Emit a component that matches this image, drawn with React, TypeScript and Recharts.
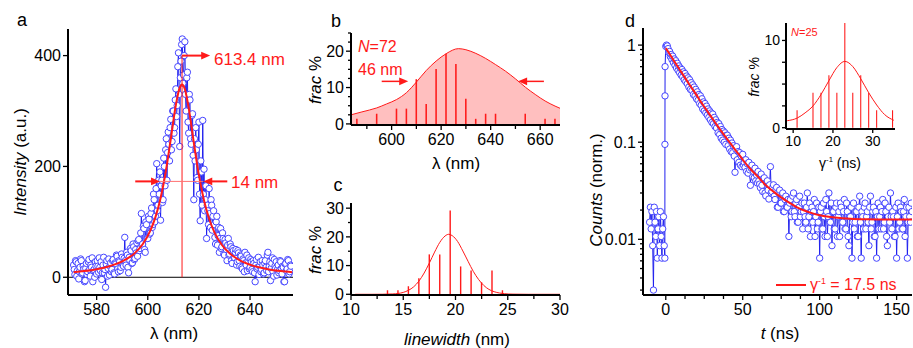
import React from 'react';
import { ComposedChart, Line, Area, Bar, Scatter, XAxis, YAxis, ReferenceLine } from 'recharts';

const RED = '#ff1a1a';
const BLUE = '#2020ee';
const BLUE_DOT = '#4646ff';
const FONT = '"Liberation Sans", Arial, Helvetica, sans-serif';

// ---- panel a: single particle spectrum (0.25 nm grid from 571 nm)
const SPEC_START = 571;
const SPEC_STEP = 0.25;
const SPEC_COUNTS = [
  22, 14, 5, 30, 28, 2, 12, 25, -3, 10, 18, 33, 30, 6, 8, 20, 15, -8, -6, 16,
  25, 5, 10, 28, 32, 14, 2, 22, 18, 35, -8, 12, 14, 0, 28, 20, 6, 30, 20, 9,
  35, 18, 12, 28, -4, 8, 22, 36, 8, 14, -18, 24, 30, 2, 16, 33, 4, 20, 26, 10,
  14, 30, 32, 8, 6, 26, 24, 40, 38, 15, 10, 30, 28, 12, 18, 42, 36, 22, 20, 34,
  72, 30, 22, 45, 40, 18, 8, 36, 30, 52, 48, 25, 26, 60, 55, 32, 34, 50, 44, 62,
  38, 66, 68, 48, 52, 80, 115, 58, 60, 92, 88, 50, 45, 100, 95, 70, 70, 110, 105, 78,
  80, 115, 125, 90, 95, 150, 140, 100, 110, 160, 205, 120, 130, 175, 150, 190, 103, 165, 175, 135,
  140, 215, 200, 165, 230, 250, 175, 225, 262, 240, 210, 270, 285, 230, 245, 300, 300, 260, 270, 320,
  340, 290, 310, 380, 405, 330, 236, 360, 390, 420, 430, 350, 365, 400, 425, 330, 300, 360, 370, 280,
  260, 330, 320, 250, 240, 292, 295, 220, 140, 250, 210, 270, 230, 180, 175, 240, 280, 150, 102, 210,
  190, 130, 283, 150, 195, 120, 140, 165, 70, 130, 120, 95, 160, 115, 90, 140, 130, 85, 110, 120,
  95, 72, 60, 100, 110, 58, 75, 90, 45, 70, 88, 52, 55, 80, 70, 42, 40, 68, 62, 50,
  30, 58, 70, 40, 42, 60, 55, 30, 25, 52, 48, 36, 35, 45, 50, 22, 28, 48, 44, 30,
  20, 40, 38, 18, 15, 33, 30, 10, 45, 26, 22, 40, 12, 30, 35, 15, 18, 32, 28, 14,
  10, 30, 25, 8, -8, 22, 32, 15, 18, 36, 5, 20, 28, 10, 14, 30, 22, 6, 8, 25,
  30, 18, 12, 40, 45, 10, 20, 28, -6, 16, 25, 35, 10, 2, 32, 20, 16, 28, 4, 14,
  22, 8, 12, 30, 28, 16, 6, 20, 18, -8, -8, 24, 25, 12, 15, 32, 30, 6, 10, 22,
  20,
];
const SPEC_FIT_X = [571, 575, 580, 585, 590, 595, 598, 601, 603, 605, 607, 609, 611, 612.5, 613.4, 614.5, 616, 618, 620, 622, 624, 626, 629, 632, 636, 641, 647, 652, 656.5];
const SPEC_FIT_Y = [9.2, 11.2, 14.6, 19.9, 28.6, 44, 59.6, 84, 108.5, 142.6, 189.5, 249.5, 311.4, 342.3, 348, 339.6, 305.8, 243, 184.2, 138.6, 105.7, 82, 58.3, 43.2, 30.5, 21, 14.5, 11.1, 8.9];

// ---- panel b: peak position histogram
const HIST_B_X = [586, 594, 602, 606, 610, 614, 618, 622, 626, 630, 634, 638, 642, 654, 662, 666];
const HIST_B_Y = [1.4, 2.8, 4.2, 4.2, 12.3, 5.5, 15.1, 19.3, 16.5, 6.9, 1.4, 2.8, 2.8, 2.8, 1.4, 1.4];
const FIT_B_X = [583.6, 588, 594, 598, 602, 606, 610, 614, 618, 622, 627, 630, 634, 638, 642, 646, 650, 654, 658, 662, 666, 668];
const FIT_B_Y = [2.5, 3.3, 4.4, 5.5, 6.7, 8.6, 11.5, 14.7, 17.3, 19.3, 20.7, 20.4, 19.4, 18.0, 16.3, 14.5, 12.4, 10.1, 8.1, 6.3, 4.9, 4.3];

// ---- panel c: linewidth histogram
const HIST_C_X = [13.5, 14.5, 15.5, 16.5, 17.5, 18.5, 19.5, 20.5, 21.5, 22.5, 23.5, 24.5];
const HIST_C_Y = [1.4, 1.4, 2.8, 5.6, 13.9, 13.9, 29.2, 9.7, 8.3, 4.2, 8.3, 1.4];
const FIT_C_X = [10.4, 12, 13, 14, 15, 15.5, 16, 16.5, 17, 17.5, 18, 18.5, 19, 19.35, 19.7, 20.2, 20.7, 21.2, 21.7, 22.2, 22.7, 23.2, 23.7, 24.2, 24.7, 25.5, 27, 30];
const FIT_C_Y = [0, 0, 0.02, 0.12, 0.65, 1.4, 2.6, 4.6, 7.4, 10.9, 14.7, 18.1, 20.3, 20.9, 20.4, 18.4, 15.1, 11.5, 8.0, 5.2, 3.1, 1.7, 0.9, 0.45, 0.2, 0.05, 0, 0];

// ---- panel d: decay trace
const PRE_START = -10.5;
const PRE_STEP = 0.5;
const DECAY_PRE = [0.015, 0.0214, 0.0128, 0.0193, 0.0086, 0.003, 0.0214, 0.015, 0.0107, 0.0193, 0.0064, 0.0128, 0.0171, 0.0086, 0.0193, 0.0107, 0.0064, 0.0128, 0.0171, 0.0086];
const RISE_T = [-0.6, -0.55, -0.5, -0.45];
const RISE_V = [0.0064, 0.095, 0.3, 0.6];
const DECAY_STEP = 0.5;
const DECAY = [
  0.97, 1.0, 0.98, 0.92, 0.84, 0.86, 0.76, 0.80, 0.71, 0.77, 0.66, 0.72, 0.62, 0.69, 0.58, 0.65, 0.55, 0.61, 0.52, 0.58,
  0.49, 0.56, 0.47, 0.53, 0.44, 0.51, 0.42, 0.48, 0.40, 0.46, 0.37, 0.44, 0.35, 0.41, 0.34, 0.39, 0.31, 0.37, 0.30, 0.35,
  0.28, 0.33, 0.27, 0.31, 0.25, 0.30, 0.24, 0.28, 0.22, 0.26, 0.21, 0.25, 0.20, 0.235, 0.19, 0.22, 0.18, 0.21, 0.17, 0.20,
  0.16, 0.195, 0.155, 0.18, 0.145, 0.17, 0.14, 0.16, 0.125, 0.155, 0.12, 0.145, 0.11, 0.135, 0.105, 0.13, 0.10, 0.125, 0.095, 0.118,
  0.118, 0.092, 0.11, 0.085, 0.105, 0.08, 0.098, 0.078, 0.092, 0.072, 0.049, 0.085, 0.09, 0.066, 0.08, 0.062, 0.078, 0.058, 0.072, 0.056,
  0.075, 0.058, 0.062, 0.055, 0.066, 0.05, 0.06, 0.048, 0.062, 0.052, 0.036, 0.054, 0.058, 0.044, 0.05, 0.043, 0.054, 0.04, 0.046, 0.038,
  0.05, 0.04, 0.037, 0.034, 0.047, 0.036, 0.031, 0.042, 0.043, 0.03, 0.028, 0.038, 0.04, 0.0321, 0.026, 0.0364, 0.056, 0.03, 0.031, 0.0342,
  0.0364, 0.0278, 0.0257, 0.0321, 0.0342, 0.0214, 0.0214, 0.03, 0.0321, 0.0236, 0.0236, 0.0278, 0.03, 0.0193, 0.0193, 0.0257, 0.0278, 0.0214, 0.0214, 0.0257,
  0.0107, 0.0236, 0.0257, 0.0171, 0.0193, 0.0278, 0.03, 0.0193, 0.0171, 0.0236, 0.0257, 0.015, 0.015, 0.0214, 0.0278, 0.0171, 0.0193, 0.0236, 0.0128, 0.0193,
  0.0236, 0.0171, 0.015, 0.0214, 0.03, 0.0128, 0.0171, 0.0236, 0.0107, 0.0193, 0.0214, 0.015, 0.0193, 0.0257, 0.0107, 0.0171, 0.0236, 0.0128, 0.015, 0.0214,
  0.0064, 0.0193, 0.0214, 0.0128, 0.0128, 0.0236, 0.0171, 0.0107, 0.0257, 0.0193, 0.0107, 0.0171, 0.03, 0.015, 0.015, 0.0236, 0.0086, 0.0193, 0.0193, 0.0128,
  0.0128, 0.0214, 0.0236, 0.0107, 0.0171, 0.0193, 0.0107, 0.0236, 0.0214, 0.015, 0.015, 0.0193, 0.0257, 0.0128, 0.0128, 0.0236, 0.0193, 0.0107, 0.0086, 0.0171,
  0.0171, 0.0214, 0.0064, 0.015, 0.0236, 0.0128, 0.015, 0.0193, 0.0193, 0.0107, 0.0107, 0.0214, 0.0278, 0.015, 0.0064, 0.0193, 0.0171, 0.0128, 0.0214, 0.0236,
  0.0128, 0.0171, 0.0193, 0.015, 0.0086, 0.0214, 0.0278, 0.0128, 0.015, 0.0193, 0.0214, 0.0107, 0.0107, 0.0193, 0.0064, 0.0171, 0.0236, 0.0128, 0.0171, 0.0214,
  0.0128, 0.0193, 0.0257, 0.0128, 0.015, 0.0236, 0.0193, 0.0107, 0.0086, 0.0171, 0.0214, 0.015, 0.03, 0.0171, 0.0128, 0.0193, 0.0171, 0.0107, 0.0107, 0.0214,
  0.0064, 0.0171, 0.0236, 0.0128, 0.015, 0.0214, 0.0193, 0.0128, 0.0128, 0.0193, 0.0257, 0.0107, 0.0171, 0.0214, 0.0064, 0.015, 0.0214, 0.0171, 0.015, 0.0236,
  0.0193,
];
const FIT_D_T = [0, 2.5, 5, 7.5, 10, 12.5, 15, 17.5, 20, 22.5, 25, 27.5, 30, 32.5, 35, 37.5, 40, 42.5, 45, 47.5, 50, 55, 60, 65, 70, 75, 80, 85, 90, 95, 100, 110, 120, 130, 145, 160];
const FIT_D_V = [0.93, 0.81, 0.70, 0.61, 0.53, 0.46, 0.40, 0.35, 0.305, 0.265, 0.232, 0.203, 0.178, 0.156, 0.137, 0.121, 0.107, 0.095, 0.084, 0.075, 0.066, 0.053, 0.044, 0.036, 0.031, 0.027, 0.024, 0.0215, 0.0198, 0.0186, 0.0177, 0.0168, 0.0163, 0.0161, 0.016, 0.016];

// ---- inset: lifetime histogram
const LIFE_X = [11, 15, 17, 19, 21, 23, 25, 27, 29, 31, 35];
const LIFE_Y = [2, 4, 4, 6, 4, 12, 4, 6, 4, 2, 2];
const LIFE_FIT_X = [8.5, 11, 13, 15, 17, 19, 21, 23, 25, 27, 29, 31, 33, 35.3];
const LIFE_FIT_Y = [0.8, 1.1, 1.7, 2.5, 3.8, 5.4, 6.9, 7.6, 7.0, 5.6, 4.0, 2.6, 1.5, 0.85];

const zip = (xs: number[], ys: number[]) => xs.map((x, i) => ({ x, y: ys[i] }));

const specData = SPEC_COUNTS.map((y, i) => ({ x: SPEC_START + i * SPEC_STEP, y }));
const specFit = zip(SPEC_FIT_X, SPEC_FIT_Y);
const histB = zip(HIST_B_X, HIST_B_Y);
const fitB = zip(FIT_B_X, FIT_B_Y);
const histC = zip(HIST_C_X, HIST_C_Y);
const fitC = zip(FIT_C_X, FIT_C_Y);
const decayData = [
  ...DECAY_PRE.map((y, i) => ({ x: PRE_START + i * PRE_STEP, y })),
  ...zip(RISE_T, RISE_V),
  ...DECAY.map((y, i) => ({ x: i * DECAY_STEP, y })),
];
const fitD = zip(FIT_D_T, FIT_D_V);
const lifeHist = zip(LIFE_X, LIFE_Y);
const lifeFit = zip(LIFE_FIT_X, LIFE_FIT_Y);

const arrowsA = [
  { x: 624.4, y: 400, dir: 1 },
  { x: 604.8, y: 173, dir: 1 },
  { x: 621.7, y: 173, dir: -1 },
];
const arrowsB = [
  { x: 606.7, y: 11.7, dir: 1 },
  { x: 651.1, y: 11.7, dir: -1 },
];

type TickSpec = { side: 'left' | 'bottom'; majors: number[]; big: number; small: number; fs: number };

function axisTick(spec: TickSpec) {
  return function AxisTick(p: any) {
    const v = p.payload.value as number;
    const major = spec.majors.some(m => Math.abs(m - v) < 1e-9);
    const len = major ? spec.big : spec.small;
    const txt = major ? String(v) : '';
    if (spec.side === 'left') {
      return (
        <g>
          <line x1={p.x} y1={p.y} x2={p.x - len} y2={p.y} stroke="#000" strokeWidth={1.3} />
          {txt && (
            <text x={p.x - len - 2} y={p.y} dy="0.36em" textAnchor="end" fontSize={spec.fs} fontFamily={FONT} fill="#000">
              {txt}
            </text>
          )}
        </g>
      );
    }
    return (
      <g>
        <line x1={p.x} y1={p.y} x2={p.x} y2={p.y + len} stroke="#000" strokeWidth={1.3} />
        {txt && (
          <text x={p.x} y={p.y + len + 2} dy="0.8em" textAnchor="middle" fontSize={spec.fs} fontFamily={FONT} fill="#000">
            {txt}
          </text>
        )}
      </g>
    );
  };
}

function ArrowHead(p: any) {
  const { cx, cy, payload } = p;
  const d = payload.dir;
  return <path d={`M${cx},${cy} L${cx - d * 9},${cy - 3.8} L${cx - d * 9},${cy + 3.8} Z`} fill={RED} />;
}

const axisLine = { stroke: '#000', strokeWidth: 2 };

function Txt({ x, y, children, size = 17, color = '#000', rotate = false, left = false }: any) {
  const tf = left ? 'translate(0,-50%)' : 'translate(-50%,-50%)';
  return (
    <div
      style={{
        position: 'absolute',
        left: x,
        top: y,
        transform: rotate ? `${tf} rotate(-90deg)` : tf,
        fontSize: size,
        color,
        whiteSpace: 'nowrap',
        lineHeight: 1,
      }}
    >
      {children}
    </div>
  );
}

const sup = { fontSize: '0.55em', verticalAlign: 'super', lineHeight: 0 } as React.CSSProperties;

// invisible axes so an overlay chart shares the plot box of the chart below it
function ghostAxes(xDomain: number[], yDomain: number[], w: number, h: number, log = false) {
  return [
    <XAxis key="x" type="number" dataKey="x" domain={xDomain} allowDataOverflow axisLine={false} tickLine={false} tick={false} height={h} />,
    <YAxis key="y" type="number" dataKey="y" domain={yDomain} allowDataOverflow axisLine={false} tickLine={false} tick={false} width={w}
      scale={log ? 'log' : 'auto'} />,
  ];
}

export default function App() {
  return (
    <div style={{ position: 'absolute', left: 0, top: 0, width: 913, height: 348, background: '#fff', fontFamily: FONT, overflow: 'hidden' }}>
      {/* a */}
      <div style={{ position: 'absolute', left: 0, top: 0 }}>
        <ComposedChart width={300} height={348} margin={{ top: 29, right: 7, bottom: 0, left: 0 }}>
          <XAxis type="number" dataKey="x" domain={[568.8, 656.8]} allowDataOverflow ticks={[580, 600, 620, 640]} interval={0}
            tickSize={0} tickMargin={0} tickLine={false} axisLine={axisLine} height={53}
            tick={axisTick({ side: 'bottom', majors: [580, 600, 620, 640], big: 5, small: 3, fs: 16 })} />
          <YAxis type="number" dataKey="y" domain={[-32, 448]} allowDataOverflow ticks={[0, 200, 400]} interval={0}
            tickSize={0} tickMargin={0} tickLine={false} axisLine={axisLine} width={68}
            tick={axisTick({ side: 'left', majors: [0, 200, 400], big: 5, small: 3, fs: 16 })} />
          <ReferenceLine y={0} stroke="#000" strokeWidth={1} />
          <Line data={specData} dataKey="y" stroke={BLUE} strokeWidth={1}
            dot={{ r: 3.2, fill: '#fff', stroke: BLUE_DOT, strokeWidth: 1 }} isAnimationActive={false} />
        </ComposedChart>
      </div>
      <div style={{ position: 'absolute', left: 0, top: 0 }}>
        <ComposedChart width={300} height={348} margin={{ top: 29, right: 7, bottom: 0, left: 0 }}>
          {ghostAxes([568.8, 656.8], [-32, 448], 68, 53)}
          <Line data={specFit} dataKey="y" type="monotone" stroke={RED} strokeWidth={2} dot={false} isAnimationActive={false} />
          <ReferenceLine segment={[{ x: 613.4, y: 0 }, { x: 613.4, y: 400 }]} stroke={RED} strokeWidth={1} />
          <ReferenceLine segment={[{ x: 613.4, y: 400 }, { x: 622, y: 400 }]} stroke={RED} strokeWidth={2} />
          <ReferenceLine segment={[{ x: 595.1, y: 173 }, { x: 602, y: 173 }]} stroke={RED} strokeWidth={2} />
          <ReferenceLine segment={[{ x: 631.1, y: 173 }, { x: 624, y: 173 }]} stroke={RED} strokeWidth={2} />
          <ReferenceLine segment={[{ x: 604.8, y: 173 }, { x: 621.7, y: 173 }]} stroke="#ff7070" strokeWidth={1} />
          <Scatter data={arrowsA} dataKey="y" shape={ArrowHead} isAnimationActive={false} />
        </ComposedChart>
      </div>

      {/* b */}
      <div style={{ position: 'absolute', left: 290, top: 0 }}>
        <ComposedChart width={280} height={175} data={histB} margin={{ top: 33, right: 10, bottom: 0, left: 0 }}>
          <XAxis type="number" dataKey="x" domain={[583.6, 668]} allowDataOverflow ticks={[590, 600, 610, 620, 630, 640, 650, 660]} interval={0}
            tickSize={0} tickMargin={0} tickLine={false} axisLine={axisLine} height={50}
            tick={axisTick({ side: 'bottom', majors: [600, 620, 640, 660], big: 5, small: 4, fs: 16 })} />
          <YAxis type="number" dataKey="y" domain={[-0.3, 25]} allowDataOverflow ticks={[0, 2.5, 5, 7.5, 10, 12.5, 15, 17.5, 20, 22.5, 25]} interval={0}
            tickSize={0} tickMargin={0} tickLine={false} axisLine={axisLine} width={61}
            tick={axisTick({ side: 'left', majors: [0, 10, 20], big: 5, small: 3, fs: 16 })} />
          <Area data={fitB} dataKey="y" type="monotone" fill="#ffbfbf" fillOpacity={1} stroke={RED} strokeWidth={1} isAnimationActive={false} />
          <Bar dataKey="y" fill={RED} barSize={2} isAnimationActive={false} />
          <ReferenceLine segment={[{ x: 596, y: 11.7 }, { x: 604, y: 11.7 }]} stroke={RED} strokeWidth={1.5} />
          <ReferenceLine segment={[{ x: 661.5, y: 11.7 }, { x: 653.8, y: 11.7 }]} stroke={RED} strokeWidth={1.5} />
          <Scatter data={arrowsB} dataKey="y" shape={ArrowHead} isAnimationActive={false} />
        </ComposedChart>
      </div>

      {/* c */}
      <div style={{ position: 'absolute', left: 290, top: 175 }}>
        <ComposedChart width={280} height={173} data={histC} margin={{ top: 28, right: 10, bottom: 0, left: 0 }}>
          <XAxis type="number" dataKey="x" domain={[10, 30]} allowDataOverflow ticks={[10, 12.5, 15, 17.5, 20, 22.5, 25, 27.5, 30]} interval={0}
            tickSize={0} tickMargin={0} tickLine={false} axisLine={axisLine} height={53}
            tick={axisTick({ side: 'bottom', majors: [10, 15, 20, 25, 30], big: 5, small: 4, fs: 16 })} />
          <YAxis type="number" dataKey="y" domain={[-0.25, 31.8]} allowDataOverflow ticks={[0, 5, 10, 15, 20, 25, 30]} interval={0}
            tickSize={0} tickMargin={0} tickLine={false} axisLine={axisLine} width={61}
            tick={axisTick({ side: 'left', majors: [0, 10, 20, 30], big: 5, small: 3, fs: 16 })} />
          <Bar dataKey="y" fill={RED} barSize={2} isAnimationActive={false} />
          <Line data={fitC} dataKey="y" type="monotone" stroke={RED} strokeWidth={1} dot={false} isAnimationActive={false} />
        </ComposedChart>
      </div>

      {/* d */}
      <div style={{ position: 'absolute', left: 580, top: 0 }}>
        <ComposedChart width={333} height={348} margin={{ top: 28, right: 1, bottom: 0, left: 0 }}>
          <XAxis type="number" dataKey="x" domain={[-14.8, 160]} allowDataOverflow
            ticks={[0, 12.5, 25, 37.5, 50, 62.5, 75, 87.5, 100, 112.5, 125, 137.5, 150]} interval={0}
            tickSize={0} tickMargin={0} tickLine={false} axisLine={axisLine} height={53}
            tick={axisTick({ side: 'bottom', majors: [0, 50, 100, 150], big: 5, small: 4, fs: 16 })} />
          <YAxis type="number" dataKey="y" scale="log" domain={[0.00267, 1.5]} allowDataOverflow
            ticks={[0.003, 0.004, 0.005, 0.006, 0.007, 0.008, 0.009, 0.01, 0.02, 0.03, 0.04, 0.05, 0.06, 0.07, 0.08, 0.09, 0.1, 0.2, 0.3, 0.4, 0.5, 0.6, 0.7, 0.8, 0.9, 1]}
            interval={0} tickSize={0} tickMargin={0} tickLine={false} axisLine={axisLine} width={63}
            tick={axisTick({ side: 'left', majors: [0.01, 0.1, 1], big: 5, small: 3, fs: 16 })} />
          <Line data={decayData} dataKey="y" stroke={BLUE} strokeWidth={1}
            dot={{ r: 3.2, fill: '#fff', stroke: BLUE_DOT, strokeWidth: 1 }} isAnimationActive={false} />
        </ComposedChart>
      </div>
      <div style={{ position: 'absolute', left: 580, top: 0 }}>
        <ComposedChart width={333} height={348} margin={{ top: 28, right: 1, bottom: 0, left: 0 }}>
          {ghostAxes([-14.8, 160], [0.00267, 1.5], 63, 53, true)}
          <Line data={fitD} dataKey="y" type="monotone" stroke={RED} strokeWidth={2} dot={false} isAnimationActive={false} />
        </ComposedChart>
      </div>

      {/* d inset */}
      <div style={{ position: 'absolute', left: 745, top: 0 }}>
        <ComposedChart width={160} height={150} data={lifeHist} margin={{ top: 23, right: 10, bottom: 0, left: 0 }}>
          <XAxis type="number" dataKey="x" domain={[8.2, 35.6]} allowDataOverflow ticks={[10, 20, 30]} interval={0}
            tickSize={0} tickMargin={0} tickLine={false} axisLine={axisLine} height={21}
            tick={axisTick({ side: 'bottom', majors: [10, 20, 30], big: 4, small: 3, fs: 14 })} />
          <YAxis type="number" dataKey="y" domain={[-0.15, 12]} allowDataOverflow ticks={[0, 2.5, 5, 7.5, 10]} interval={0}
            tickSize={0} tickMargin={0} tickLine={false} axisLine={axisLine} width={41}
            tick={axisTick({ side: 'left', majors: [0, 10], big: 4, small: 4, fs: 14 })} />
          <Bar dataKey="y" fill={RED} barSize={3} isAnimationActive={false} />
          <Line data={lifeFit} dataKey="y" type="monotone" stroke={RED} strokeWidth={1} dot={false} isAnimationActive={false} />
        </ComposedChart>
      </div>

      {/* letters and titles */}
      <Txt x={22} y={20} size={18}>a</Txt>
      <Txt x={336} y={21} size={18}>b</Txt>
      <Txt x={338} y={185} size={18}>c</Txt>
      <Txt x={630} y={21} size={18}>d</Txt>

      <Txt x={20} y={162} rotate><i>Intensity</i> (a.u.)</Txt>
      <Txt x={174} y={333}>λ (nm)</Txt>
      <Txt x={214} y={59} size={17} color={RED} left>613.4 nm</Txt>
      <Txt x={231} y={182} size={17} color={RED} left>14 nm</Txt>

      <Txt x={315} y={80} rotate><i>frac</i> %</Txt>
      <Txt x={456} y={163}>λ (nm)</Txt>
      <Txt x={358} y={47} size={16} color={RED} left><i>N</i>=72</Txt>
      <Txt x={358} y={70} size={16} color={RED} left>46 nm</Txt>

      <Txt x={315} y={250} rotate><i>frac</i> %</Txt>
      <Txt x={457} y={339}><i>linewidth</i> (nm)</Txt>

      <Txt x={596} y={190} rotate><i>Counts</i> (norm.)</Txt>
      <Txt x={780} y={333}><i>t</i> (ns)</Txt>
      <Txt x={754} y={77} size={14} rotate><i>frac</i> %</Txt>
      <Txt x={840} y={163} size={14}>γ<span style={sup}>-1</span> (ns)</Txt>
      <Txt x={791} y={32} size={11} color={RED} left><i>N</i>=25</Txt>

      <div style={{ position: 'absolute', left: 776, top: 284, width: 30, borderTop: `2px solid ${RED}` }} />
      <Txt x={810} y={285} size={16} color={RED} left>γ<span style={sup}>-1</span> = 17.5 ns</Txt>
    </div>
  );
}
